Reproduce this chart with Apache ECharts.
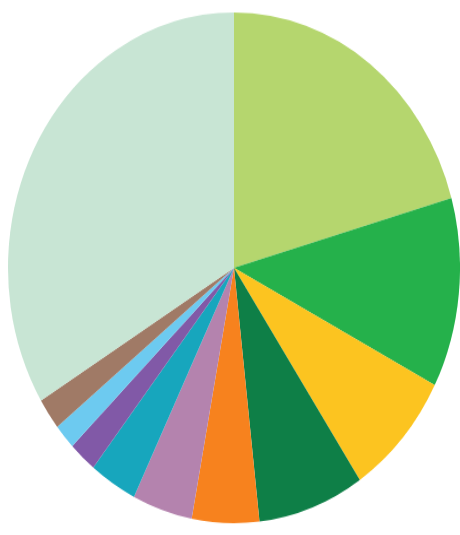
<!DOCTYPE html>
<html>
<head>
<meta charset="utf-8">
<script src="https://cdn.jsdelivr.net/npm/echarts@6/dist/echarts.min.js"></script>
<style>
  html, body { margin: 0; padding: 0; background: #fff; overflow: hidden; }
  #wrap { width: 460px; height: 535px; overflow: hidden; }
  /* the source pie is drawn as an ellipse, so stretch the canvas vertically */
  #chart { width: 460px; height: 474px; transform: scaleY(1.13); transform-origin: 0 0; }
</style>
</head>
<body>
<div id="wrap"><div id="chart"></div></div>
<script>
// slice shares (percent), clockwise from 12 o'clock
const sliceNames = ['A', 'B', 'C', 'D', 'E', 'F', 'G', 'H', 'I', 'J', 'K']
const sliceValues = [20.6, 12.0, 8.0, 7.6, 4.8, 4.3, 3.4, 2.0, 1.6, 2.0, 33.7]
const sliceColors = [
  '#b5d66e', '#25b14b', '#fcc420', '#0e7f47', '#f7821e',
  '#b483ae', '#17a6bd', '#8159a7', '#6dcaf0', '#a07a66', '#c8e5d4'
]

const chart = echarts.init(document.getElementById('chart'), null, { renderer: 'canvas' })
chart.setOption({
  animation: false,
  color: sliceColors,
  series: [
    {
      type: 'pie',
      center: [234, 237],
      radius: [0, 226],
      startAngle: 90,
      clockwise: true,
      avoidLabelOverlap: false,
      label: { show: false },
      labelLine: { show: false },
      emphasis: { disabled: true },
      itemStyle: { borderWidth: 0 },
      data: sliceNames.map((n, i) => ({ name: n, value: sliceValues[i] }))
    }
  ]
})
</script>
</body>
</html>
